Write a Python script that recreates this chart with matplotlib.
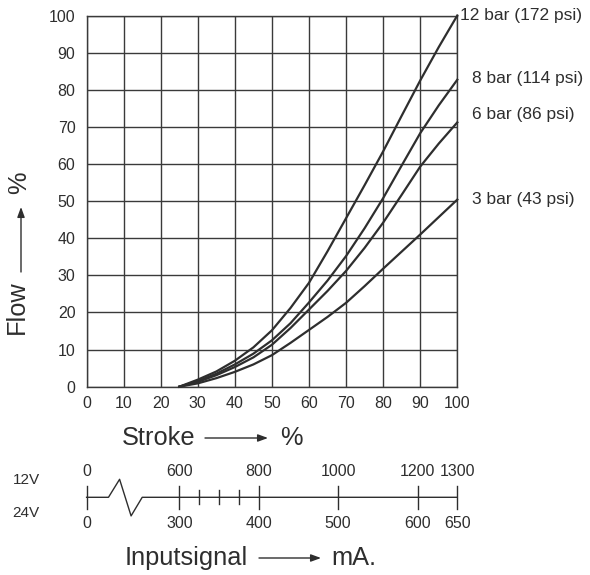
import matplotlib
matplotlib.use("Agg")
import matplotlib.pyplot as plt
import numpy as np

plt.rcParams['font.family'] = ['Liberation Sans', 'DejaVu Sans']

# ---- data ----
stroke = [25, 30, 35, 40, 45, 50, 55, 60, 65, 70, 75, 80, 85, 90, 95, 100]
flow_12bar = [0, 1.9, 4.1, 7.0, 10.6, 15.2, 21.2, 28.0, 36.5, 45.4, 54.3, 63.4, 73.0, 82.5, 91.5, 100]
flow_8bar = [0, 1.5, 3.5, 6.0, 8.9, 12.5, 17.1, 22.7, 28.6, 35.2, 42.7, 50.8, 59.6, 68.3, 75.8, 82.7]
flow_6bar = [0, 1.3, 3.1, 5.3, 7.9, 11.3, 15.8, 20.8, 25.8, 31.2, 37.4, 44.2, 51.7, 59.3, 65.5, 71.2]
flow_3bar = [0, 0.9, 2.3, 4.0, 6.0, 8.5, 11.8, 15.3, 18.8, 22.6, 27.1, 31.8, 36.4, 41.0, 45.7, 50.4]
series_labels = ["12 bar (172 psi)", "8 bar (114 psi)", "6 bar (86 psi)", "3 bar (43 psi)"]
x_ticks = list(range(0, 101, 10))
y_ticks = list(range(0, 101, 10))

# input signal scale (mA)
ma_12v_major = [600, 800, 1000, 1200, 1300]
ma_24v_major = [300, 400, 500, 600, 650]
ma_12v_minor = [650, 700, 750]
ma_zero_label = "0"

ink = '#2e2e2e'
W, H = 590, 575
fig = plt.figure(figsize=(W / 100, H / 100), dpi=100)

def fx(px):
    return px / W

def fy(py):
    return 1 - py / H

TICK_FS = 11.5
LAB_FS = 12.5
BIG_FS = 18.3

# main axes: x 86.6..457.3 px, y 15.5..386.7 px
ax = fig.add_axes([fx(86.6), fy(386.7), fx(457.3 - 86.6), (386.7 - 15.5) / H])
ax.set_xlim(0, 100)
ax.set_ylim(0, 100)
ax.set_xticks(x_ticks)
ax.set_yticks(y_ticks)
ax.grid(True, color='#3a3a3a', linewidth=1.0)
ax.set_axisbelow(True)
for s in ax.spines.values():
    s.set_color('#3a3a3a')
    s.set_linewidth(1.0)
ax.tick_params(length=0, labelsize=TICK_FS, colors=ink)
ax.tick_params(axis='y', pad=8)
ax.tick_params(axis='x', pad=7)

for ys in [flow_12bar, flow_8bar, flow_6bar, flow_3bar]:
    ax.plot(stroke, ys, color=ink, linewidth=1.6, solid_joinstyle='round',
            clip_on=False, zorder=3)

label_pos = [(100.6, flow_12bar[-1]), (104, flow_8bar[-1] + 0.3),
             (104, flow_6bar[-1] + 2.0), (104, flow_3bar[-1])]
for lab, (lx, ly) in zip(series_labels, label_pos):
    ax.text(lx, ly, lab, fontsize=LAB_FS, color=ink, ha='left', va='center',
            clip_on=False)

arrow_style = '-|>,head_length=6,head_width=2.2'

# Flow label (rotated) with arrow
fig.text(fx(17), fy(307), "Flow", rotation=90, fontsize=BIG_FS, color=ink,
         ha='center', va='center')
fig.text(fx(19), fy(183), "%", rotation=90, fontsize=BIG_FS, color=ink,
         ha='center', va='center')
fig.add_artist(matplotlib.patches.FancyArrowPatch(
    (fx(21), fy(272)), (fx(21), fy(207)), transform=fig.transFigure,
    arrowstyle=arrow_style, color=ink, linewidth=1.0, shrinkA=0, shrinkB=0))

# Stroke label with arrow
fig.text(fx(122), fy(438), "Stroke", fontsize=BIG_FS, color=ink, ha='left', va='center')
fig.add_artist(matplotlib.patches.FancyArrowPatch(
    (fx(205), fy(438)), (fx(268), fy(438)), transform=fig.transFigure,
    arrowstyle=arrow_style, color=ink, linewidth=1.0, shrinkA=0, shrinkB=0))
fig.text(fx(280), fy(438), "%", fontsize=BIG_FS, color=ink, ha='left', va='center')

# ---- input signal scale ----
s0, m0 = 25, ma_12v_major[0]
ma_per_pct = (ma_12v_major[-1] - m0) / (100 - s0)
ma_left = m0 - s0 * ma_per_pct
ma_right = ma_12v_major[-1]

ax2 = fig.add_axes([fx(86.6), fy(527.3), fx(457.3 - 86.6), 60 / H])
ax2.set_xlim(ma_left, ma_right)
ax2.set_ylim(-1, 1)
ax2.axis('off')

def pct(p):
    return ma_left + p * ma_per_pct

# baseline with break zig-zag
bx = [pct(0), pct(5.9), pct(8.9), pct(12.0), pct(15.0), ma_right]
by = [0, 0, 0.6, -0.62, 0, 0]
ax2.plot(bx, by, color=ink, linewidth=1.0, clip_on=False)
ax2.plot([ma_left, ma_left], [-0.39, 0.39], color=ink, linewidth=1.0, clip_on=False)
ax2.text(ma_left, 0.86, ma_zero_label, fontsize=TICK_FS, color=ink, ha='center', va='center')
ax2.text(ma_left, -0.86, ma_zero_label, fontsize=TICK_FS, color=ink, ha='center', va='center')
for top, bot in zip(ma_12v_major, ma_24v_major):
    ax2.plot([top, top], [-0.39, 0.39], color=ink, linewidth=1.0, clip_on=False)
    ax2.text(top, 0.86, str(top), fontsize=TICK_FS, color=ink, ha='center', va='center')
    ax2.text(top, -0.86, str(bot), fontsize=TICK_FS, color=ink, ha='center', va='center')
for m in ma_12v_minor:
    ax2.plot([m, m], [-0.23, 0.23], color=ink, linewidth=1.0, clip_on=False)

fig.text(fx(26), fy(480), "12V", fontsize=11, color=ink, ha='center', va='center')
fig.text(fx(26), fy(513), "24V", fontsize=11, color=ink, ha='center', va='center')

# Inputsignal label with arrow
fig.text(fx(125), fy(558), "Inputsignal", fontsize=BIG_FS, color=ink, ha='left', va='center')
fig.add_artist(matplotlib.patches.FancyArrowPatch(
    (fx(259), fy(558)), (fx(321), fy(558)), transform=fig.transFigure,
    arrowstyle=arrow_style, color=ink, linewidth=1.0, shrinkA=0, shrinkB=0))
fig.text(fx(331), fy(558), "mA.", fontsize=BIG_FS, color=ink, ha='left', va='center')

fig.savefig("out.png", dpi=100, facecolor='white')
